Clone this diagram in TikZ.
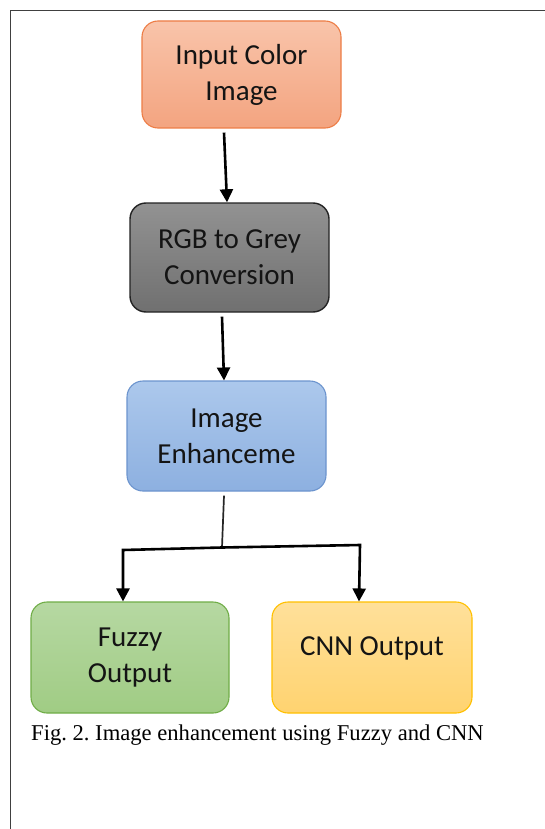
\documentclass[tikz,border=0pt]{standalone}
\usepackage{fontspec}
\setmainfont{Carlito}
\newfontfamily\capfont{Liberation Serif}
\usetikzlibrary{arrows.meta}

\definecolor{inTop}{RGB}{249,196,170}
\definecolor{inBot}{RGB}{243,164,128}
\definecolor{inLine}{RGB}{237,125,70}
\definecolor{gyTop}{RGB}{146,146,146}
\definecolor{gyBot}{RGB}{112,112,112}
\definecolor{gyLine}{RGB}{35,35,35}
\definecolor{blTop}{RGB}{172,200,236}
\definecolor{blBot}{RGB}{141,176,224}
\definecolor{blLine}{RGB}{108,148,206}
\definecolor{grTop}{RGB}{182,216,162}
\definecolor{grBot}{RGB}{160,204,132}
\definecolor{grLine}{RGB}{112,173,71}
\definecolor{ylTop}{RGB}{255,224,154}
\definecolor{ylBot}{RGB}{255,211,112}
\definecolor{ylLine}{RGB}{255,192,0}
\definecolor{frameLine}{RGB}{64,64,64}

\tikzset{
  box/.style={draw, line width=1.1pt, rounded corners=16pt, align=center,
    font=\fontsize{29}{36}\selectfont, text=black!92,
    minimum width=199pt, minimum height=109pt, inner sep=0pt},
  arr/.style={line width=2.6pt, black, -{Triangle[length=13pt,width=13pt]}},
  split/.style={line width=1.7pt, black!85}
}

\begin{document}
\frenchspacing
\begin{tikzpicture}[x=1pt,y=-1pt]
  \useasboundingbox (0,0) rectangle (545,829);
  \fill[white] (0,0) rectangle (545,829);

  % page frame (top and left edges)
  \draw[frameLine, line width=1.5pt] (10.5,829) -- (10.5,10.5) -- (545,10.5);

  % process boxes
  \node[box, top color=inTop, bottom color=inBot, draw=inLine,
        minimum height=107pt] (inp) at (241.5,74.5) {Input Color\\Image};
  \node[box, top color=gyTop, bottom color=gyBot, draw=gyLine, line width=1.4pt] (rgb)
        at (229.5,257.5) {RGB to Grey\\Conversion};
  \node[box, top color=blTop, bottom color=blBot, draw=blLine,
        minimum height=110pt] (enh) at (226.5,436) {Image\\Enhanceme};
  \node[box, top color=grTop, bottom color=grBot, draw=grLine,
        minimum width=198pt, minimum height=111pt] (fuz) at (130,657.5) {Fuzzy\\Output};
  \node[box, top color=ylTop, bottom color=ylBot, draw=ylLine,
        minimum width=200pt, minimum height=111pt, text height=20pt, text depth=25pt]
        (cnn) at (372,657.5) {CNN Output};

  % connectors
  \draw[arr] ([xshift=-17.5pt,yshift=-4pt]inp.south) -- ([xshift=-2.5pt]rgb.north);
  \draw[arr] ([xshift=-7.5pt,yshift=-4pt]rgb.south) -- ([xshift=-2.5pt]enh.north);

  \coordinate (jm) at (222,547.5);
  \coordinate (jl) at (123,550);
  \coordinate (jr) at (360,545);
  \draw[split] ([xshift=-2.5pt,yshift=-4pt]enh.south) -- (jm);
  \draw[arr] (jm) -- (jl) -- ([xshift=-7pt]fuz.north);
  \draw[arr] (jm) -- (jr) -- ([xshift=-13pt]cnn.north);

  % caption
  \node[anchor=base west, inner sep=0pt, font=\capfont\fontsize{22.6}{25}\selectfont]
    (cap) at (31,740) {Fig. 2. Image enhancement using Fuzzy and CNN};
\end{tikzpicture}
\end{document}
